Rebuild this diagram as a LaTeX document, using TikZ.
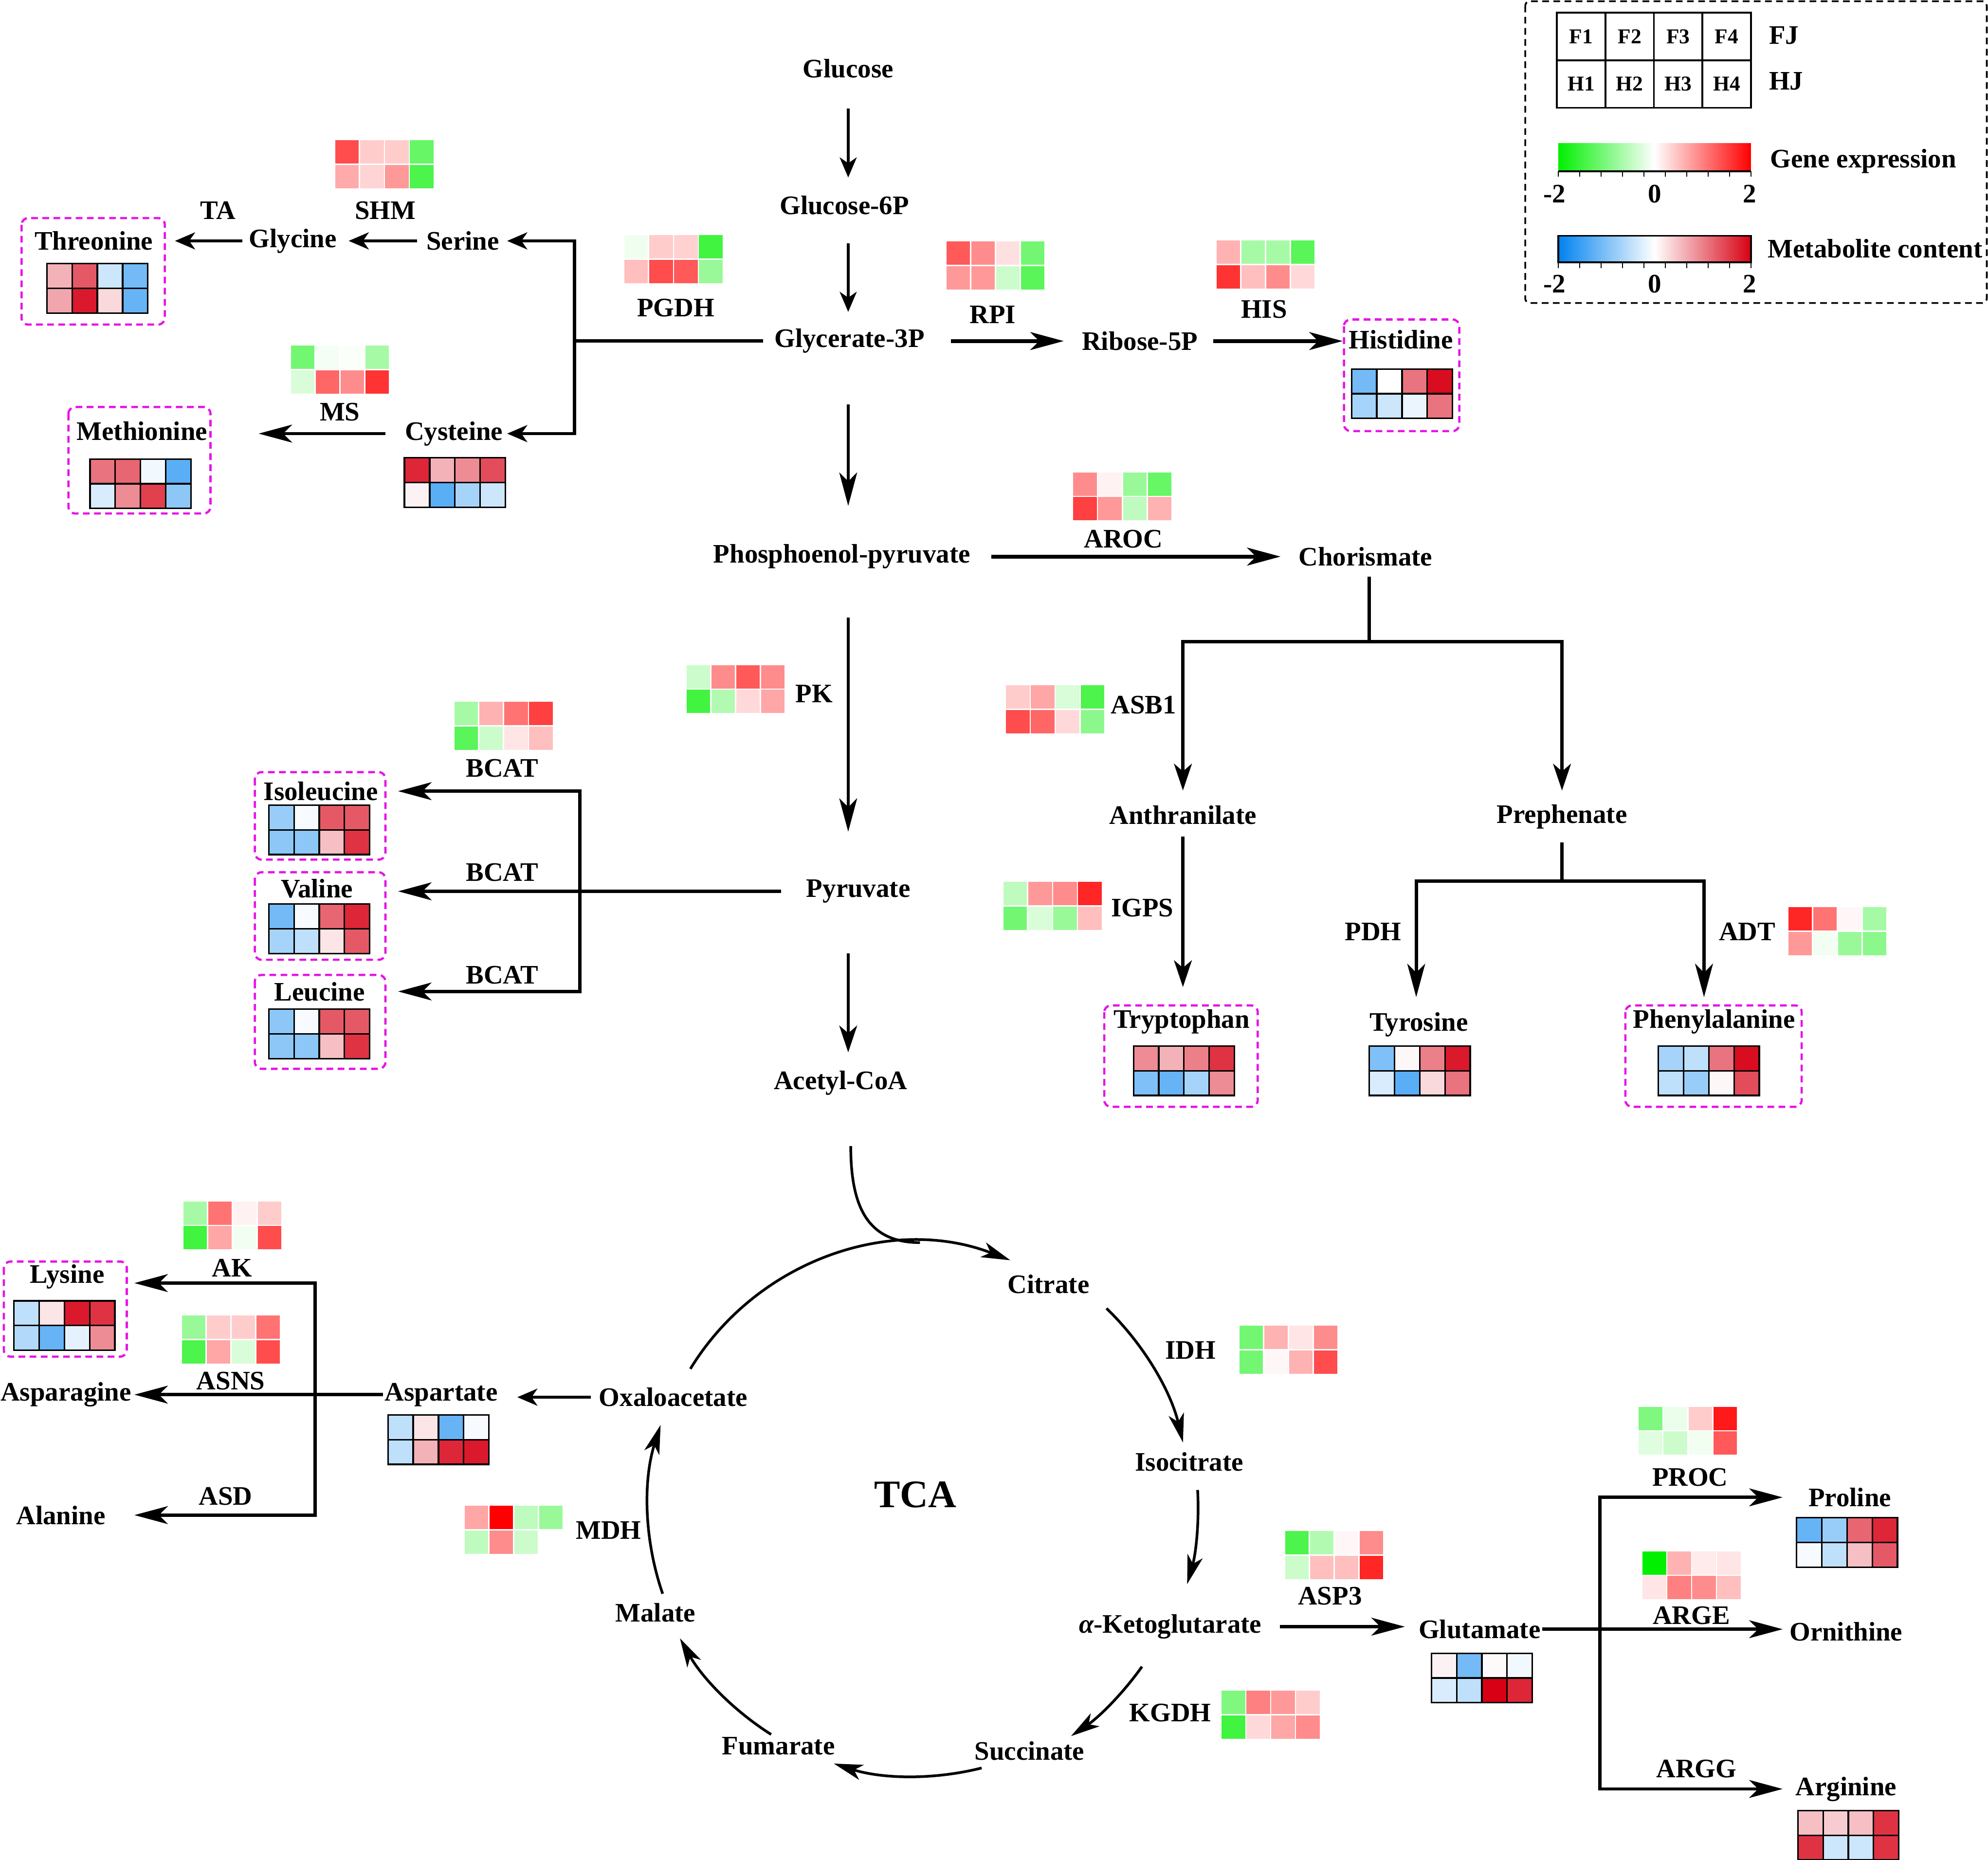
\documentclass[tikz,border=0pt]{standalone}
\usepackage{fontspec}
\setmainfont{Liberation Serif}
\usetikzlibrary{arrows.meta}

\definecolor{gup}{RGB}{255,0,0}
\definecolor{gdn}{RGB}{0,240,0}
\definecolor{mup}{RGB}{215,0,20}
\definecolor{mdn}{RGB}{0,130,240}
\definecolor{boxpink}{RGB}{230,20,230}

\tikzset{
  metab/.style={inner sep=0pt, font=\fontsize{12}{14}\selectfont\bfseries},
  enz/.style={inner sep=0pt, font=\fontsize{12}{14}\selectfont\bfseries},
  ln/.style={line width=1.5pt},
  lnthin/.style={line width=1.3pt},
  lnthick/.style={line width=1.8pt},
  tcaln/.style={line width=1.2pt},
  arrS/.style={-{Stealth[length=9pt,width=7.6pt,inset=2.6pt]}},
  arrM/.style={-{Stealth[length=12pt,width=8pt,inset=3.4pt]}},
  arrL/.style={-{Stealth[length=15pt,width=8pt,inset=4pt]}},
  arrT/.style={-{Stealth[length=13pt,width=7pt,inset=3.5pt]}},
  mbox/.style={draw=boxpink, line width=1pt, dash pattern=on 3pt off 2pt, rounded corners=3pt},
  legcell/.style={draw, line width=0.8pt, minimum width=0.765cm, minimum height=0.75cm, inner sep=0pt, font=\fontsize{9.5}{11}\selectfont\bfseries}
}

% colour of one heat cell: #1 high colour, #2 low colour, #3 value in percent
\newcommand{\heatcol}[3]{%
  \ifdim #3pt<0pt
    \pgfmathsetmacro\hneg{-(#3)}%
    \colorlet{hc}{#2!\hneg!white}%
  \else
    \colorlet{hc}{#1!#3!white}%
  \fi}

% gene expression block, top left corner #1,#2
\newcommand{\genemap}[3]{%
  \foreach \hval [count=\hi from 0] in {#3} {%
    \pgfmathtruncatemacro\hcol{mod(\hi,4)}%
    \pgfmathtruncatemacro\hrow{int(\hi/4)}%
    \heatcol{gup}{gdn}{\hval}%
    \filldraw[fill=hc, draw=white, line width=0.6pt]
      (#1+\hcol*19.6, #2+\hrow*19.5) rectangle ++(19.6,19.5);
  }}

% metabolite content block, top left corner #1,#2
\newcommand{\metmap}[3]{%
  \foreach \hval [count=\hi from 0] in {#3} {%
    \pgfmathtruncatemacro\hcol{mod(\hi,4)}%
    \pgfmathtruncatemacro\hrow{int(\hi/4)}%
    \heatcol{mup}{mdn}{\hval}%
    \filldraw[fill=hc, draw=black, line width=0.7pt]
      (#1+\hcol*19.9, #2+\hrow*19.5) rectangle ++(19.9,19.5);
  }}

\begin{document}
\begin{tikzpicture}[x=0.02cm, y=-0.02cm]
\useasboundingbox (0,0) rectangle (1568,1467);

% metabolites
\node[metab] (glc) at (669,54) {Glucose};
\node[metab] (g6p) at (666,162) {Glucose-6P};
\node[metab] (g3p) at (670,269) {Glycerate-3P};
\node[metab] (r5p) at (899,269) {Ribose-5P};
\node[metab] (his) at (1105,268) {Histidine};
\node[metab] (pep) at (664,439) {Phosphoenol-pyruvate};
\node[metab] (cho) at (1077,439) {Chorismate};
\node[metab] (pyr) at (677,703) {Pyruvate};
\node[metab] (aco) at (663,854) {Acetyl-CoA};
\node[metab] (ant) at (933,643) {Anthranilate};
\node[metab] (pre) at (1232,644) {Prephenate};
\node[metab] (trp) at (932,806) {Tryptophan};
\node[metab] (tyr) at (1119,808) {Tyrosine};
\node[metab] (phe) at (1352,806) {Phenylalanine};
\node[metab] (ser) at (365,190) {Serine};
\node[metab] (gly) at (231,190) {Glycine};
\node[metab] (thr) at (74,190) {Threonine};
\node[metab] (cys) at (358,342) {Cysteine};
\node[metab] (met) at (112,340) {Methionine};
\node[metab] (ile) at (253,624) {Isoleucine};
\node[metab] (val) at (250,701) {Valine};
\node[metab] (leu) at (252,782) {Leucine};
\node[metab] (cit) at (827,1013) {Citrate};
\node[metab] (ict) at (938,1153) {Isocitrate};
\node[metab] (akg) at (923,1283) {{\itshape α}-Ketoglutarate};
\node[metab] (suc) at (812,1381) {Succinate};
\node[metab] (fum) at (614,1377) {Fumarate};
\node[metab] (mal) at (517,1272) {Malate};
\node[metab] (oaa) at (531,1102) {Oxaloacetate};
\node[metab] (asp) at (348,1100) {Aspartate};
\node[metab] (asn) at (52,1100) {Asparagine};
\node[metab] (lys) at (53,1007) {Lysine};
\node[metab] (ala) at (48,1195) {Alanine};
\node[metab] (glu) at (1167,1285) {Glutamate};
\node[metab] (pro) at (1459,1181) {Proline};
\node[metab] (orn) at (1456,1287) {Ornithine};
\node[metab] (arg) at (1456,1411) {Arginine};
\node[metab, font=\fontsize{17.5}{20}\selectfont\bfseries] (tca) at (722,1179) {TCA};

% enzymes
\node[enz] (eTA) at (172,166) {TA};
\node[enz] (eSHM) at (304,166) {SHM};
\node[enz] (ePGDH) at (533,243) {PGDH};
\node[enz] (eRPI) at (783,248) {RPI};
\node[enz] (eHIS) at (997,244) {HIS};
\node[enz] (eMS) at (268,325) {MS};
\node[enz] (eAROC) at (886,425) {AROC};
\node[enz] (ePK) at (642,547) {PK};
\node[enz] (eASB) at (902,556) {ASB1};
\node[enz] (eBCATa) at (396,606) {BCAT};
\node[enz] (eBCATb) at (396,688) {BCAT};
\node[enz] (eBCATc) at (396,769) {BCAT};
\node[enz] (eIGPS) at (901,716) {IGPS};
\node[enz] (ePDH) at (1083,735) {PDH};
\node[enz] (eADT) at (1378,735) {ADT};
\node[enz] (eAK) at (183,1000) {AK};
\node[enz] (eASNS) at (182,1089) {ASNS};
\node[enz] (eASD) at (178,1180) {ASD};
\node[enz] (eIDH) at (939,1065) {IDH};
\node[enz] (eMDH) at (480,1207) {MDH};
\node[enz] (ePROC) at (1333,1165) {PROC};
\node[enz] (eARGE) at (1334,1274) {ARGE};
\node[enz] (eASP) at (1049,1259) {ASP3};
\node[enz] (eKGDH) at (923,1351) {KGDH};
\node[enz] (eARGG) at (1338,1395) {ARGG};

% branch points
\coordinate (spine) at (669,0);
\coordinate (gbr) at (453,269);
\coordinate (bbr) at (457.5,703);
\coordinate (cbr) at (1080,506);
\coordinate (pbr) at (1232,695);
\coordinate (abr) at (248.7,1100);
\coordinate (ebr) at (1262,1285);
\coordinate (tcac) at (722,1188);
\coordinate (ctop) at ([shift={(89:4.16cm)}]tcac);

% main line
\draw[lnthin, arrS, shorten <=0.63cm, shorten >=0.44cm] (spine |- glc) -- (spine |- g6p);
\draw[lnthin, arrS, shorten <=0.60cm, shorten >=0.46cm] (spine |- g6p) -- (spine |- g3p);
\draw[lnthin, arrL, shorten <=1.0cm, shorten >=0.80cm] (spine |- g3p) -- (spine |- pep);
\draw[lnthin, arrL, shorten <=0.96cm, shorten >=0.94cm] (spine |- pep) -- (spine |- pyr);
\draw[lnthin, arrM, shorten <=0.98cm, shorten >=0.48cm] (spine |- pyr) -- (spine |- aco);

% pentose and aromatic side
\draw[lnthick, arrL, shorten <=1.6cm, shorten >=1.2cm] (g3p.center) -- (r5p.center);
\draw[lnthick, arrL, shorten <=1.16cm, shorten >=0.92cm] (r5p.center) -- (r5p.center -| his.center);
\draw[lnthick, arrL, shorten <=2.36cm, shorten >=1.34cm] (pep.center) -- (cho.center);
\draw[ln, shorten <=0.32cm] (cho.center -| cbr) -- (cbr);
\draw[ln, arrM, shorten >=0.39cm] (cbr) -| (ant.center);
\draw[ln, arrM, shorten >=0.41cm] (cbr) -| (pre.center);
\draw[ln, arrM, shorten <=0.34cm, shorten >=0.55cm] (ant.center) -- (ant.center |- trp.center);
\draw[ln, shorten <=0.41cm] (pre.center) -- (pbr);
\draw[ln, arrL, shorten >=0.43cm] (pbr) -| ([xshift=-0.04cm]tyr.center);
\draw[ln, arrL, shorten >=0.39cm] (pbr) -| ([xshift=-0.16cm]phe.center);

% serine side
\draw[ln, shorten <=1.36cm] (g3p.center) -- (gbr);
\draw[ln, arrS, shorten >=0.70cm] (gbr) |- (ser.center);
\draw[ln, arrS, shorten >=0.84cm] (gbr) |- (cys.center);
\draw[ln, arrS, shorten <=0.72cm, shorten >=0.88cm] (ser.center) -- (gly.center);
\draw[ln, arrS, shorten <=0.80cm, shorten >=1.28cm] (gly.center) -- (thr.center);
\draw[ln, arrL, shorten <=1.08cm, shorten >=1.84cm] (cys.center) -- (cys.center -| met.center);

% branched chain
\draw[ln, arrL, shorten <=1.22cm, shorten >=1.28cm] (pyr.center) -- (pyr.center -| val.center);
\draw[ln, arrL, shorten >=1.22cm] (bbr) |- (ile.center);
\draw[ln, arrL, shorten >=1.24cm] (bbr) |- (leu.center);

% TCA cycle
\draw[tcaln] ([xshift=0.16cm, yshift=-1.0cm]aco.center) .. controls +(0,-1.0cm) and +(-0.8cm,0) .. (ctop);
\draw[tcaln, arrT] ([shift={(148.6:4.16cm)}]tcac) arc[start angle=148.6, end angle=68.9, radius=4.16cm];
\draw[tcaln, arrT] ([shift={(46:4.34cm)}]tcac) arc[start angle=46, end angle=13.4, radius=4.34cm];
\draw[tcaln, arrT] ([shift={(3.3:4.46cm)}]tcac) arc[start angle=3.3, end angle=-16, radius=4.46cm];
\draw[tcaln, arrT] ([shift={(-35.3:4.38cm)}]tcac) arc[start angle=-35.3, end angle=-55.9, radius=4.38cm];
\draw[tcaln, arrT] ([shift={(-75.8:4.26cm)}]tcac) arc[start angle=-75.8, end angle=-107.6, radius=4.26cm];
\draw[tcaln, arrT] ([shift={(-122.3:4.26cm)}]tcac) arc[start angle=-122.3, end angle=-150.7, radius=4.26cm];
\draw[tcaln, arrT] ([shift={(-160.9:4.22cm)}]tcac) arc[start angle=-160.9, end angle=-197.7, radius=4.22cm];

% aspartate family
\draw[ln, arrS, shorten <=1.3cm, shorten >=1.2cm] (oaa.center) -- (oaa.center -| asp.center);
\draw[ln, arrL, shorten <=0.92cm, shorten >=1.08cm] (asp.center) -- (asp.center -| asn.center);
\draw[ln, arrL, shorten >=1.06cm] (abr) |- ([yshift=-0.1cm]lys.center);
\draw[ln, arrL, shorten >=1.16cm] (abr) |- (ala.center);

% glutamate family
\draw[ln, arrL, shorten <=1.73cm, shorten >=1.18cm] (akg.center) -- (akg.center -| glu.center);
\draw[ln, arrL, shorten <=0.99cm, shorten >=1.0cm] (glu.center) -- (glu.center -| orn.center);
\draw[ln, arrL, shorten >=1.06cm] (ebr) |- (pro.center);
\draw[ln, arrL, shorten >=1.0cm] (ebr) |- (arg.center);

% gene expression blocks
\genemap{264}{110}{70,20,20,-60,33,17,40,-70}
\genemap{492}{185}{-6,20,18,-75,25,70,65,-40}
\genemap{746}{190}{65,45,12,-55,40,40,-20,-65}
\genemap{959}{189}{30,-35,-35,-65,80,25,45,15}
\genemap{229}{272}{-55,-4,-2,-35,-15,60,45,80}
\genemap{846}{372}{45,5,-40,-60,75,40,-25,30}
\genemap{541}{524}{-20,45,65,45,-75,-30,15,35}
\genemap{793}{540}{20,35,-15,-70,70,60,15,-45}
\genemap{358}{553}{-35,30,55,75,-65,-20,10,25}
\genemap{791}{695}{-25,40,45,85,-55,-15,-40,25}
\genemap{1410}{715}{85,55,3,-35,40,-5,-40,-45}
\genemap{144}{947}{-35,55,5,20,-75,35,-5,70}
\genemap{143}{1037}{-40,20,20,55,-70,35,-15,70}
\genemap{977}{1045}{-55,30,10,45,-55,3,30,70}
\genemap{366}{1187}{35,100,-25,-40,-25,45,-20,0}
\genemap{1292}{1109}{-50,-8,20,90,-12,-20,-5,65}
\genemap{1295}{1223}{-100,30,8,10,10,50,45,25}
\genemap{1013}{1207}{-70,-30,3,45,-20,25,25,85}
\genemap{963}{1333}{-50,50,40,20,-75,15,35,45}

% metabolite content blocks
\metmap{37}{208}{30,65,-20,-55,35,90,15,-60}
\metmap{1066}{291}{-55,0,55,95,-35,-20,-8,55}
\metmap{71}{362}{55,60,-5,-65,-15,45,75,-45}
\metmap{319}{361}{85,30,45,70,5,-65,-35,-20}
\metmap{212}{635}{-40,-3,65,65,-45,-45,25,80}
\metmap{212}{713}{-55,-3,60,85,-35,-25,10,65}
\metmap{212}{796}{-45,-3,65,65,-45,-45,25,80}
\metmap{894}{825}{45,30,50,80,-50,-60,-35,45}
\metmap{1080}{825}{-50,3,50,90,-15,-65,15,55}
\metmap{1308}{825}{-35,-25,55,95,-25,-40,3,70}
\metmap{11}{1026}{-25,10,90,80,-30,-60,-10,45}
\metmap{306}{1116}{-25,10,-60,-3,-25,30,85,90}
\metmap{1417}{1197}{-60,-40,60,85,-3,-25,25,65}
\metmap{1129}{1304}{5,-55,2,-5,-15,-25,100,85}
\metmap{1418}{1428}{25,20,25,80,80,-20,-20,80}

% measured amino acids
\draw[mbox] (17,172) rectangle (130,256);
\draw[mbox] (1060,252) rectangle (1151,340);
\draw[mbox] (54,321) rectangle (166,405);
\draw[mbox] (201,609) rectangle (304,678);
\draw[mbox] (201,688) rectangle (304,757);
\draw[mbox] (201,769) rectangle (304,843);
\draw[mbox] (871,793) rectangle (992,873);
\draw[mbox] (1282,793) rectangle (1421,873);
\draw[mbox] (3,995) rectangle (100,1070);

% legend
\draw[line width=0.8pt, dash pattern=on 3pt off 2pt, rounded corners=2pt] (1203,1) rectangle (1567,239);
\foreach \i in {1,...,4} {
  \node[legcell] (lf\i) at (1228+38.25*\i-19.125,28.75) {F\i};
  \node[legcell] (lh\i) at (1228+38.25*\i-19.125,66.25) {H\i};
}
\node[metab, anchor=west] (lfj) at (1395,28) {FJ};
\node[metab, anchor=west] (lhj) at (1395,64) {HJ};
\shade[left color=gdn, right color=gup, middle color=white] (1229,113) rectangle (1381,135);
\draw[line width=0.8pt] (1229,135) -- (1381,135);
\shade[left color=mdn, right color=mup, middle color=white] (1229,186) rectangle (1381,207);
\draw[line width=0.8pt] (1229,186) rectangle (1381,207);
\foreach \k in {0,...,9} {
  \draw[line width=0.6pt] (1229+16.89*\k,135) -- ++(0,4.5);
  \draw[line width=0.6pt] (1229+16.89*\k,207) -- ++(0,4.5);
}
\node[metab] (lg1) at (1226,153) {-2};
\node[metab] (lg2) at (1305,153) {0};
\node[metab] (lg3) at (1380,153) {2};
\node[metab] (lm1) at (1226,224) {-2};
\node[metab] (lm2) at (1305,224) {0};
\node[metab] (lm3) at (1380,224) {2};
\node[metab, anchor=west] (lge) at (1396,127) {Gene expression};
\node[metab, anchor=west] (lmc) at (1394,196) {Metabolite content};
\end{tikzpicture}
\end{document}
